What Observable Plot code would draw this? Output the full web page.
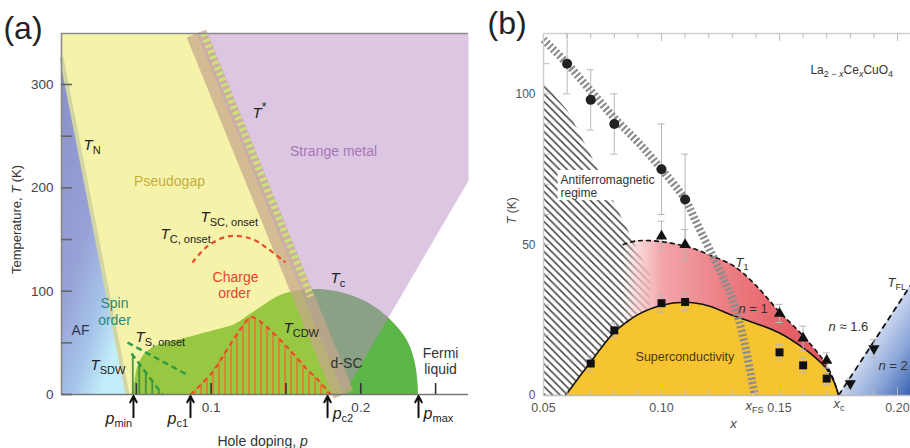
<!DOCTYPE html>
<html><head><meta charset="utf-8">
<script src="https://cdn.jsdelivr.net/npm/d3@7"></script>
<script src="https://cdn.jsdelivr.net/npm/@observablehq/plot@0.6"></script>
<style>
html,body{margin:0;padding:0;background:#fff;}
#wrap{position:relative;width:910px;height:448px;overflow:hidden;background:#fff;}
#pa{position:absolute;left:0;top:0;}
#pb{position:absolute;left:480px;top:0;}
</style></head><body>
<svg width="0" height="0" style="position:absolute">
<defs>
  <linearGradient id="afBlue" x1="0" y1="0" x2="0.6" y2="1">
    <stop offset="0" stop-color="#8a8fc9"/><stop offset="0.55" stop-color="#97a2d7"/>
    <stop offset="0.8" stop-color="#a6c4ea"/><stop offset="1" stop-color="#c2eefa"/>
  </linearGradient>
  <pattern id="redStripes" patternUnits="userSpaceOnUse" width="6" height="10">
    <rect x="2.3" y="0" width="1.4" height="10" fill="#ef6a2c"/>
  </pattern>
  <pattern id="greenStripes" patternUnits="userSpaceOnUse" width="6.5" height="10">
    <rect x="2" y="0" width="1.6" height="10" fill="#3a8a3a"/>
  </pattern>
  <pattern id="afHatch" patternUnits="userSpaceOnUse" width="7.5" height="7.5">
    <path d="M-1,-1L8.5,8.5M-1,6.5L1,8.5M6.5,-1L8.5,1" stroke="#4a4a4a" stroke-width="1.6"/>
  </pattern>
  <linearGradient id="pinkFade" x1="0" y1="0" x2="1" y2="0">
    <stop offset="0" stop-color="rgb(250,215,215)" stop-opacity="0"/>
    <stop offset="0.07" stop-color="rgb(248,200,202)" stop-opacity="0.7"/>
    <stop offset="0.18" stop-color="#f2a6aa"/><stop offset="0.45" stop-color="#ec8288"/>
    <stop offset="0.75" stop-color="#e66268"/><stop offset="1" stop-color="#e0525a"/>
  </linearGradient>
  <linearGradient id="flBlue" x1="0" y1="0" x2="1" y2="1">
    <stop offset="0" stop-color="#f3f6fc"/><stop offset="0.5" stop-color="#cbd7ee"/>
    <stop offset="0.75" stop-color="#8aa5d8"/><stop offset="1" stop-color="#3b64b2"/>
  </linearGradient>
</defs></svg>
<div id="wrap"><div id="pa"></div><div id="pb"></div></div>
<script>
const FONT = "'Liberation Sans', Arial, Helvetica, sans-serif";

// ================= Panel (a) data =================
const aDomainP = [0, 0.272];
const aDomainT = [0, 349.4];
const aYTicks = [0, 50, 100, 150, 200, 250, 300];
const aYLabels = [0, 100, 200, 300];
const aXTicks = [0.05, 0.10, 0.15, 0.20, 0.25];
const aXLabels = [0.1, 0.2];
const aArrows = [{p: 0.0481}, {p: 0.0862}, {p: 0.1778}, {p: 0.2386}];
const aAF = [{p: 0, T: 326}, {p: 0.0441, T: 0}, {p: 0, T: 0}];
const aTN = [{p: 0, T: 326}, {p: 0.0441, T: 0}];
const aPseudogap = [{p: 0, T: 349.4}, {p: 0.0902, T: 349.4}, {p: 0.1885, T: 0}, {p: 0.0441, T: 0}, {p: 0, T: 326}];
const aStrange = [{p: 0.0902, T: 349.4}, {p: 0.272, T: 349.4}, {p: 0.272, T: 207}, {p: 0.1885, T: 0}];
const aTstar = [{p: 0.0902, T: 349.4}, {p: 0.1885, T: 0}];
const aTstarLadder = [{p: 0.0950, T: 349.4}, {p: 0.1666, T: 95}];
const aDome = [
  {p: 0.0478, T: 0}, {p: 0.0492, T: 14}, {p: 0.0508, T: 26}, {p: 0.0535, T: 34.5}, {p: 0.0561, T: 39.7},
  {p: 0.0642, T: 47.4}, {p: 0.0842, T: 55}, {p: 0.1063, T: 63.5}, {p: 0.113, T: 66}, {p: 0.1197, T: 71},
  {p: 0.133, T: 84}, {p: 0.1464, T: 95.8}, {p: 0.16, T: 100.6}, {p: 0.1718, T: 101.6}, {p: 0.1865, T: 98.7},
  {p: 0.2019, T: 91}, {p: 0.212, T: 82}, {p: 0.22, T: 72}, {p: 0.228, T: 59}, {p: 0.2333, T: 45.5},
  {p: 0.2365, T: 30}, {p: 0.238, T: 15}, {p: 0.2386, T: 0}
];
const aTcdw = [
  {p: 0.0862, T: 0}, {p: 0.1, T: 20}, {p: 0.113, T: 49}, {p: 0.12, T: 64}, {p: 0.1263, T: 74.8},
  {p: 0.1300, T: 73.5}, {p: 0.1397, T: 62}, {p: 0.1517, T: 44.5}, {p: 0.163, T: 26}, {p: 0.1718, T: 13.5}, {p: 0.1798, T: 0}
];
const aTconset = [
  {p: 0.0875, T: 127.8}, {p: 0.0976, T: 143.5}, {p: 0.1112, T: 153}, {p: 0.1263, T: 151},
  {p: 0.1377, T: 141.4}, {p: 0.1497, T: 127.8}
];
const aTsOnset = [{p: 0.0441, T: 50.3}, {p: 0.0849, T: 18.4}];
const aTsdw = [{p: 0.0468, T: 39.7}, {p: 0.0675, T: 0}];
const aWords = [
  {p: 0.0722, T: 206, text: "Pseudogap", color: "#c6ae3e"},
  {p: 0.1818, T: 235, text: "Strange metal", color: "#a678b6"},
  {p: 0.1163, T: 113, text: "Charge", color: "#e5452c"},
  {p: 0.1156, T: 97.5, text: "order", color: "#e5452c"},
  {p: 0.1905, T: 30, text: "d-SC", color: "#2d352d"},
  {p: 0.2533, T: 39.7, text: "Fermi", color: "#333"},
  {p: 0.2533, T: 24.2, text: "liquid", color: "#333"},
  {p: 0.0354, T: 88, text: "Spin", color: "#2b8a78"},
  {p: 0.0354, T: 71.6, text: "order", color: "#2b8a78"},
  {p: 0.0127, T: 62, text: "AF", color: "#2f3550"}
];
const aSymbols = [
  {p: 0.0147, T: 241, main: "T", sub: "N"},
  {p: 0.1277, T: 272, main: "T", sup: "*"},
  {p: 0.0929, T: 171.3, main: "T", sub: "SC, onset"},
  {p: 0.0662, T: 154.8, main: "T", sub: "C, onset"},
  {p: 0.1798, T: 112.3, main: "T", sub: "c"},
  {p: 0.1484, T: 63.9, main: "T", sub: "CDW"},
  {p: 0.0194, T: 28, main: "T", sub: "SDW"},
  {p: 0.0495, T: 55.2, main: "T", sub: "S, onset"},
  {p: 0.0294, T: -23.2, main: "p", sub: "min"},
  {p: 0.0709, T: -23.2, main: "p", sub: "c1"},
  {p: 0.1812, T: -18.5, main: "p", sub: "c2"},
  {p: 0.2420, T: -18.4, main: "p", sub: "max"}
];

// ================= Panel (b) data =================
const bDomainX = [0.05, 0.2055];
const bDomainT = [0, 120];
const bYTicks = [10, 20, 30, 40, 50, 60, 70, 80, 90, 100, 110];
const bYLabels = [0, 50, 100];
const bXTicks = [0.06, 0.07, 0.08, 0.09, 0.10, 0.11, 0.12, 0.13, 0.14, 0.15, 0.16, 0.17, 0.18, 0.19, 0.20];
const bXMajor = [0.10, 0.15, 0.20];
const bXLabels = [0.05, 0.10, 0.15, 0.20];
const bCircles = [{x: 0.06, T: 110, e: 10}, {x: 0.07, T: 98, e: 10}, {x: 0.08, T: 90, e: 10}, {x: 0.10, T: 75, e: 15}, {x: 0.11, T: 65, e: 15}];
const bTriUp = [{x: 0.10, T: 52.8, e: 5}, {x: 0.11, T: 50, e: 5}, {x: 0.15, T: 27.2, e: 3}, {x: 0.16, T: 19, e: 4}, {x: 0.17, T: 11.6, e: 2.5}];
const bSquares = [{x: 0.07, T: 10.6, e: 2.5}, {x: 0.08, T: 21.6, e: 2.5}, {x: 0.10, T: 30.6, e: 3}, {x: 0.11, T: 31, e: 3}, {x: 0.15, T: 14.3, e: 2.5}, {x: 0.16, T: 10, e: 2.5}, {x: 0.17, T: 5.6, e: 2}];
const bTriDown = [{x: 0.18, T: 4, e: 1.5}, {x: 0.19, T: 15.6, e: 3}];
const bScDome = [
  {x: 0.0593, T: 0}, {x: 0.0645, T: 5.5}, {x: 0.0695, T: 10.6}, {x: 0.075, T: 16.3}, {x: 0.08, T: 21},
  {x: 0.085, T: 24.2}, {x: 0.09, T: 26.8}, {x: 0.10, T: 29.9}, {x: 0.11, T: 30.9}, {x: 0.12, T: 29.7},
  {x: 0.13, T: 26.6}, {x: 0.14, T: 23.9}, {x: 0.15, T: 20.7}, {x: 0.16, T: 15.8}, {x: 0.165, T: 12.7},
  {x: 0.17, T: 8.8}, {x: 0.1735, T: 3.8}, {x: 0.175, T: 0}
];
const bT1 = [
  {x: 0.0835, T: 50}, {x: 0.09, T: 51.3}, {x: 0.10, T: 51}, {x: 0.1123, T: 49}, {x: 0.1205, T: 46.5},
  {x: 0.1305, T: 43}, {x: 0.14, T: 36.5}, {x: 0.1496, T: 28}, {x: 0.1597, T: 20}, {x: 0.1695, T: 10.6},
  {x: 0.1735, T: 4}, {x: 0.175, T: 0}
];
const bTFL = [{x: 0.175, T: 0}, {x: 0.2055, T: 36.5}];
const bXFS = [
  {x: 0.05, T: 118}, {x: 0.06, T: 110}, {x: 0.07, T: 101}, {x: 0.08, T: 92}, {x: 0.09, T: 84},
  {x: 0.10, T: 75}, {x: 0.11, T: 65}, {x: 0.115, T: 57}, {x: 0.12, T: 49}, {x: 0.125, T: 41},
  {x: 0.13, T: 32}, {x: 0.135, T: 18}, {x: 0.1395, T: 0}
];
const bAFRegion = [
  {x: 0.05, T: 103.7}, {x: 0.0602, T: 94.5}, {x: 0.0712, T: 77.9}, {x: 0.0784, T: 66.3}, {x: 0.0847, T: 56.4},
  {x: 0.0911, T: 46.4}, {x: 0.0953, T: 39.8}, {x: 0.0953, T: 0}, {x: 0.05, T: 0}
];
const bAFTextBox = [{x1: 0.0562, x2: 0.0985, y1: 64.6, y2: 74.6}];

// ================= helpers =================
const ctx = document.createElement("canvas").getContext("2d");
function tw(t, size, italic) { ctx.font = `${italic ? "italic " : ""}${size}px ${FONT}`; return ctx.measureText(t).width; }
function rich(x, y, parts, o = {}) {
  const size = o.size || 14, fill = o.fill || "#222", anchor = o.anchor || "start", rot = o.rotate || 0;
  const items = parts.map(q => { const s = q.s || ((q.sub || q.sup) ? Math.round(size * 0.72) : size); return {...q, s, w: tw(q.t, s, q.i)}; });
  const total = d3.sum(items, q => q.w);
  let off = anchor === "middle" ? -total / 2 : anchor === "end" ? -total : 0;
  const out = [];
  for (const q of items) {
    const shift = q.sub ? size * 0.33 : q.sup ? -size * 0.4 : 0;
    out.push(Plot.text([{x, y}], {
      x: "x", y: "y", text: () => q.t, fontSize: q.s, fontStyle: q.i ? "italic" : "normal",
      fontFamily: FONT, textAnchor: "start", lineAnchor: "middle", rotate: rot,
      dx: rot ? shift : off, dy: rot ? -off : shift, fill: q.fill || fill
    }));
    off += q.w;
  }
  return out;
}
function triDownDraw(context, size) {
  const y = -Math.sqrt(size / (Math.sqrt(3) * 3));
  context.moveTo(0, -y * 2);
  context.lineTo(Math.sqrt(3) * y, y);
  context.lineTo(-Math.sqrt(3) * y, y);
  context.closePath();
}
const triDown = {draw: triDownDraw};

// ================= Panel (a) =================
const aTickP = 0.0074, aTickT = 10.6;
const aMarks = [
  Plot.areaY(aDome, {x: "p", y: "T", fill: "#5cb547", curve: "catmull-rom"}),
  Plot.line(aAF, {x: "p", y: "T", fill: "url(#afBlue)", stroke: "none"}),
  Plot.line(aPseudogap, {x: "p", y: "T", fill: "#e8e13a", fillOpacity: 0.43, stroke: "none"}),
  Plot.line(aStrange, {x: "p", y: "T", fill: "#b98dc3", fillOpacity: 0.5, stroke: "none"}),
  Plot.line(aTstar, {x: "p", y: "T", stroke: "#c6a68c", strokeOpacity: 0.72, strokeWidth: 21, strokeLinecap: "butt"}),
  Plot.line(aTN, {x: "p", y: "T", stroke: "#d3d6a4", strokeWidth: 4, strokeLinecap: "butt"}),
  Plot.areaY(aTcdw, {x: "p", y: "T", fill: "url(#redStripes)", curve: "catmull-rom"}),
  Plot.areaY(aTsdw, {x: "p", y: "T", fill: "url(#greenStripes)"}),
  Plot.line(aTcdw, {x: "p", y: "T", stroke: "#ee4a28", strokeWidth: 2.2, strokeDasharray: "5,4", strokeLinecap: "butt", curve: "catmull-rom"}),
  Plot.line(aTconset, {x: "p", y: "T", stroke: "#ee4a28", strokeWidth: 2.2, strokeDasharray: "5,4", strokeLinecap: "butt", curve: "catmull-rom"}),
  Plot.line(aTsOnset, {x: "p", y: "T", stroke: "#2f9a45", strokeWidth: 2.4, strokeDasharray: "6,4", strokeLinecap: "butt"}),
  Plot.line(aTsdw, {x: "p", y: "T", stroke: "#2f9a45", strokeWidth: 2.4, strokeDasharray: "6,4", strokeLinecap: "butt"}),
  Plot.line(aTstarLadder, {x: "p", y: "T", stroke: "#cfe27a", strokeWidth: 7, strokeDasharray: "3,3", strokeLinecap: "butt"}),
  Plot.ruleY([aDomainT[1]], {stroke: "#8a8a8a", strokeWidth: 1.6}),
  Plot.ruleX([aDomainP[0]], {stroke: "#8a8a8a", strokeWidth: 1.6}),
  Plot.ruleY([0], {stroke: "#777", strokeWidth: 1.6}),
  Plot.ruleY(aYTicks, {y: d => d, x1: 0, x2: aTickP, stroke: "#666", strokeWidth: 1.6}),
  Plot.ruleX(aXTicks, {x: d => d, y1: 0, y2: aTickT, stroke: "#333", strokeWidth: 1.6}),
  Plot.arrow(aArrows, {x1: "p", x2: "p", y1: -22, y2: -1.5, stroke: "#111", strokeWidth: 2, headLength: 9, headAngle: 55}),
  Plot.text(aYLabels, {x: 0, y: d => d, text: d => String(d), textAnchor: "end", dx: -8, fontSize: 13.5, fill: "#444", fontFamily: FONT}),
  Plot.text(aXLabels, {x: d => d, y: -12.6, text: d => String(d), fontSize: 13.5, fill: "#444", fontFamily: FONT}),
  Plot.text(aWords, {x: "p", y: "T", text: "text", fill: "color", fontSize: 14, fontFamily: FONT}),
  ...aSymbols.flatMap(s => rich(s.p, s.T, [
    {t: s.main, i: true, s: s.main === "p" ? 16 : 15},
    ...(s.sub ? [{t: s.sub, sub: true, s: 11}] : []),
    ...(s.sup ? [{t: s.sup, sup: true, s: 12}] : [])
  ], {size: 15, fill: "#222"})),
  ...rich(0.1344, -45.5, [{t: "Hole doping,\u00a0"}, {t: "p", i: true}], {size: 14, fill: "#333", anchor: "middle"}),
  ...rich(-0.0297, 169.4, [{t: "Temperature,\u00a0"}, {t: "T", i: true}, {t: "\u00a0(K)"}], {size: 13, fill: "#333", anchor: "middle", rotate: -90}),
  Plot.text(["(a)"], {x: -0.0388, y: 354.2, text: d => d, textAnchor: "start", fontSize: 32, fill: "#222", fontFamily: FONT})
];
const aPlot = Plot.plot({
  width: 472, height: 448, marginLeft: 61, marginRight: 4, marginTop: 33, marginBottom: 54,
  x: {domain: aDomainP, axis: null}, y: {domain: aDomainT, axis: null},
  style: {fontFamily: FONT, background: "transparent", overflow: "visible", maxWidth: "none"},
  marks: aMarks
});
document.getElementById("pa").appendChild(aPlot);

// ================= Panel (b) =================
const bTickX = 0.0026, bTickMinor = 1.7, bTickMajor = 2.6;
const bAll = [...bCircles, ...bTriUp, ...bSquares, ...bTriDown];
const bMarks = [
  Plot.line(bAFRegion, {x: "x", y: "T", fill: "url(#afHatch)", stroke: "none"}),
  Plot.rect(bAFTextBox, {x1: "x1", x2: "x2", y1: "y1", y2: "y2", fill: "white"}),
  Plot.areaY(bT1, {x: "x", y: "T", fill: "url(#pinkFade)", curve: "catmull-rom"}),
  Plot.areaY(bTFL, {x: "x", y: "T", fill: "url(#flBlue)"}),
  Plot.areaY(bScDome, {x: "x", y: "T", fill: "#f6c431", curve: "catmull-rom"}),
  Plot.line(bScDome, {x: "x", y: "T", stroke: "#111", strokeWidth: 1.6, curve: "catmull-rom"}),
  Plot.line(bT1, {x: "x", y: "T", stroke: "#111", strokeWidth: 1.6, strokeDasharray: "5,3", strokeLinecap: "butt", curve: "catmull-rom"}),
  Plot.line(bTFL, {x: "x", y: "T", stroke: "#111", strokeWidth: 1.8, strokeDasharray: "6,4", strokeLinecap: "butt"}),
  Plot.ruleX(bAll, {x: "x", y1: d => d.T - d.e, y2: d => d.T + d.e, stroke: "#b8b8b8", strokeWidth: 1}),
  Plot.ruleY(bAll, {y: d => d.T + d.e, x1: d => d.x - 0.0015, x2: d => d.x + 0.0015, stroke: "#b8b8b8", strokeWidth: 1}),
  Plot.ruleY(bAll, {y: d => d.T - d.e, x1: d => d.x - 0.0015, x2: d => d.x + 0.0015, stroke: "#b8b8b8", strokeWidth: 1}),
  Plot.line(bXFS, {x: "x", y: "T", stroke: "#8c8c8c", strokeWidth: 8, strokeDasharray: "2.2,2.2", strokeLinecap: "butt", curve: "catmull-rom"}),
  Plot.dot(bCircles, {x: "x", y: "T", r: 5, fill: "#222", stroke: "none"}),
  Plot.dot(bSquares, {x: "x", y: "T", r: 4.5, symbol: "square", fill: "#111", stroke: "none"}),
  Plot.dot(bTriUp, {x: "x", y: "T", r: 4.2, symbol: "triangle", fill: "#111", stroke: "none"}),
  Plot.dot(bTriDown, {x: "x", y: "T", r: 4.2, symbol: triDown, fill: "#111", stroke: "none"}),
  Plot.ruleY([bDomainT[1]], {stroke: "#cfcfcf", strokeWidth: 1.5}),
  Plot.ruleX([bDomainX[0]], {stroke: "#cfcfcf", strokeWidth: 1.5}),
  Plot.ruleY([0], {stroke: "#bdbdbd", strokeWidth: 1.3}),
  Plot.ruleY(bYTicks, {y: d => d, x1: bDomainX[0], x2: bDomainX[0] + bTickX, stroke: "#bbb", strokeWidth: 1}),
  Plot.ruleX(bXTicks, {x: d => d, y1: 0, y2: d => bXMajor.includes(d) ? bTickMajor : bTickMinor, stroke: "#bbb", strokeWidth: 1}),
  Plot.ruleX(bXTicks, {x: d => d, y1: bDomainT[1], y2: d => bDomainT[1] - (bXMajor.includes(d) ? bTickMajor : bTickMinor), stroke: "#bbb", strokeWidth: 1}),
  Plot.text(bYLabels, {x: bDomainX[0], y: d => d, text: d => String(d), textAnchor: "end", dx: -8, fontSize: 12, fill: "#555", fontFamily: FONT}),
  Plot.text(bXLabels, {x: d => d, y: 0, dy: 12, text: d => d3.format(".2f")(d), fontSize: 12.5, fill: "#555", fontFamily: FONT}),
  Plot.text(["Antiferromagnetic", "regime"], {x: 0.0572, y: (d, i) => i ? 67 : 71.3, text: d => d, textAnchor: "start", fontSize: 12, fill: "#333", fontFamily: FONT}),
  Plot.text(["Superconductivity"], {x: 0.0890, y: 12.6, text: d => d, textAnchor: "start", fontSize: 12.5, fill: "#4a3a12", fontFamily: FONT}),
  ...rich(0.1631, 107.7, [{t: "La"}, {t: "2\u00a0\u2212\u00a0", sub: true}, {t: "x", sub: true, i: true}, {t: "Ce"}, {t: "x", sub: true, i: true}, {t: "CuO"}, {t: "4", sub: true}], {size: 12, fill: "#333"}),
  ...rich(0.1314, 44.1, [{t: "T", i: true}, {t: "1", sub: true}], {size: 13, fill: "#333"}),
  ...rich(0.1326, 28.8, [{t: "n", i: true}, {t: "\u00a0=\u00a01"}], {size: 13, fill: "#333"}),
  ...rich(0.1708, 22.9, [{t: "n", i: true}, {t: "\u00a0\u2248\u00a01.6"}], {size: 13, fill: "#333"}),
  ...rich(0.1919, 9.9, [{t: "n", i: true}, {t: "\u00a0=\u00a02"}], {size: 13, fill: "#333"}),
  ...rich(0.1958, 37.5, [{t: "T", i: true}, {t: "FL", sub: true}], {size: 13, fill: "#333"}),
  ...rich(0.1356, -3.3, [{t: "x", i: true}, {t: "FS", sub: true}], {size: 13, fill: "#444"}),
  ...rich(0.1729, -2.65, [{t: "x", i: true}, {t: "c", sub: true}], {size: 13, fill: "#444"}),
  ...rich(0.1305, -9.3, [{t: "x", i: true}], {size: 13, fill: "#444", anchor: "middle"}),
  ...rich(0.0369, 61.3, [{t: "T", i: true}, {t: "\u00a0(K)"}], {size: 12, fill: "#444", anchor: "middle", rotate: -90}),
  Plot.text(["(b)"], {x: 0.0263, y: 123.3, text: d => d, textAnchor: "start", fontSize: 32, fill: "#222", fontFamily: FONT})
];
const bPlot = Plot.plot({
  width: 430, height: 448, marginLeft: 63, marginRight: 0, marginTop: 33, marginBottom: 53,
  x: {domain: bDomainX, axis: null}, y: {domain: bDomainT, axis: null},
  style: {fontFamily: FONT, background: "transparent", overflow: "visible", maxWidth: "none"},
  marks: bMarks
});
document.getElementById("pb").appendChild(bPlot);
</script></body></html>
